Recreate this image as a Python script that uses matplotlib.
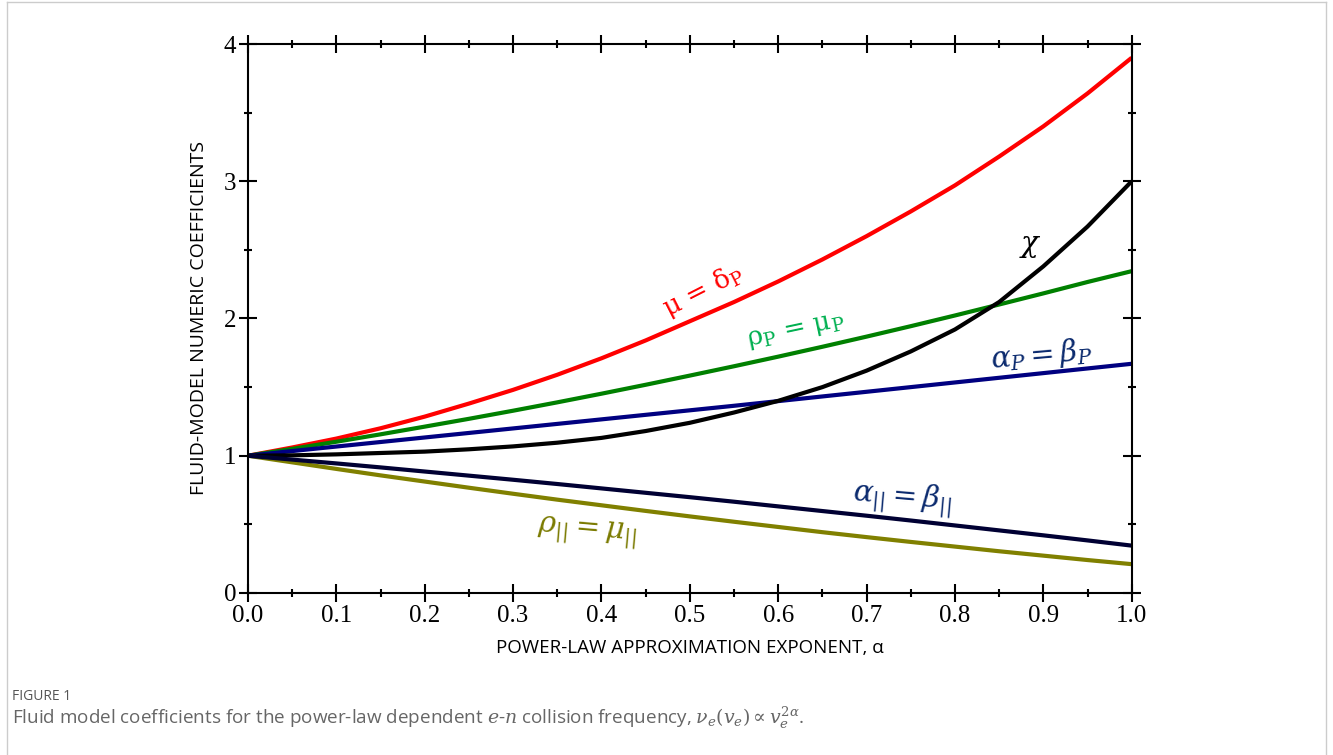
import numpy as np
import matplotlib.pyplot as plt
from matplotlib.lines import Line2D
from matplotlib.ticker import MultipleLocator

# Power-law exponent alpha (read every 0.05)
alpha = [0.00, 0.05, 0.10, 0.15, 0.20, 0.25, 0.30, 0.35, 0.40, 0.45, 0.50,
         0.55, 0.60, 0.65, 0.70, 0.75, 0.80, 0.85, 0.90, 0.95, 1.00]

# Coefficients
mu_delta_p = [1.00, 1.06, 1.125, 1.20, 1.285, 1.38, 1.48, 1.59, 1.71, 1.84, 1.98,
              2.12, 2.27, 2.43, 2.60, 2.78, 2.97, 3.18, 3.40, 3.64, 3.90]
rho_mu_p = [1.00, 1.05, 1.102, 1.156, 1.212, 1.269, 1.328, 1.389, 1.452, 1.517, 1.584,
            1.652, 1.722, 1.794, 1.868, 1.944, 2.022, 2.102, 2.183, 2.266, 2.345]
alpha_beta_p = [1.00, 1.034, 1.067, 1.10, 1.133, 1.166, 1.199, 1.232, 1.265, 1.298, 1.331,
                1.364, 1.398, 1.432, 1.466, 1.50, 1.534, 1.568, 1.602, 1.636, 1.67]
chi = [1.00, 1.003, 1.01, 1.02, 1.03, 1.047, 1.068, 1.095, 1.13, 1.18, 1.24,
       1.315, 1.40, 1.50, 1.62, 1.76, 1.92, 2.12, 2.38, 2.67, 3.00]
alpha_beta_par = [1.00, 0.972, 0.944, 0.915, 0.885, 0.855, 0.825, 0.794, 0.762, 0.730, 0.698,
                  0.665, 0.631, 0.597, 0.563, 0.528, 0.492, 0.456, 0.420, 0.383, 0.345]
rho_mu_par = [1.00, 0.952, 0.904, 0.857, 0.812, 0.767, 0.723, 0.680, 0.639, 0.598, 0.558,
              0.519, 0.481, 0.443, 0.407, 0.372, 0.338, 0.304, 0.272, 0.240, 0.21]

plt.rcParams["mathtext.fontset"] = "dejavuserif"

fig = plt.figure(figsize=(13.33, 7.55), dpi=100)
ax = fig.add_axes([0.186, 0.2146, 0.663, 0.7271])

lw = 3.0
ax.plot(alpha, mu_delta_p, color="#ff0000", lw=lw, solid_capstyle="butt")
ax.plot(alpha, rho_mu_p, color="#008000", lw=lw, solid_capstyle="butt")
ax.plot(alpha, alpha_beta_p, color="#000080", lw=lw, solid_capstyle="butt")
ax.plot(alpha, chi, color="#000000", lw=lw, solid_capstyle="butt")
ax.plot(alpha, rho_mu_par, color="#808000", lw=lw, solid_capstyle="butt")
ax.plot(alpha, alpha_beta_par, color="#000033", lw=lw, solid_capstyle="butt")

# curve labels
ax.text(0.515, 2.20, "μ = δ$_\\mathregular{P}$", color="#ff0000", fontsize=19,
        family="DejaVu Serif", rotation=27, ha="center", va="center")
ax.text(0.62, 1.91, "ρ$_\\mathregular{P}$ = μ$_\\mathregular{P}$", color="#00b050",
        fontsize=19, family="DejaVu Serif", rotation=12, ha="center", va="center")
ax.text(0.898, 1.73, r"$\alpha_P = \beta_P$", color="#0b2a6e", fontsize=21,
        rotation=5, ha="center", va="center")
ax.text(0.885, 2.53, r"$\chi$", color="#000000", fontsize=21,
        ha="center", va="center")
ax.text(0.74, 0.69, r"$\alpha_{||} = \beta_{||}$", color="#0b2a6e", fontsize=21,
        rotation=-5, ha="center", va="center")
ax.text(0.384, 0.44, r"$\rho_{||} = \mu_{||}$", color="#7a7a00", fontsize=21,
        rotation=-5, ha="center", va="center")

ax.set_xlim(0, 1)
ax.set_ylim(0, 4)
ax.xaxis.set_major_locator(MultipleLocator(0.1))
ax.xaxis.set_minor_locator(MultipleLocator(0.05))
ax.yaxis.set_major_locator(MultipleLocator(1))
ax.yaxis.set_minor_locator(MultipleLocator(0.5))
ax.xaxis.set_major_formatter(plt.FuncFormatter(lambda v, p: f"{v:.1f}"))
ax.yaxis.set_major_formatter(plt.FuncFormatter(lambda v, p: f"{v:.0f}"))

ax.tick_params(which="both", direction="inout", top=True, right=True,
               width=1.5, colors="black")
ax.tick_params(which="major", length=13, labelsize=18, pad=2)
ax.tick_params(which="minor", length=6)
for lab in ax.get_xticklabels() + ax.get_yticklabels():
    lab.set_family("Liberation Serif")
for s in ax.spines.values():
    s.set_linewidth(1.5)

ax.set_xlabel("POWER-LAW APPROXIMATION EXPONENT, α", family="Open Sans",
              fontsize=13.5, labelpad=9)
ax.set_ylabel("FLUID-MODEL NUMERIC COEFFICIENTS", family="Open Sans",
              fontsize=14, labelpad=11)

# caption
fig.text(12 / 1333, 1 - 697 / 755, "FIGURE 1", family="Open Sans", fontsize=10,
         color="#555555", va="center")
fig.text(12 / 1333, 1 - 718 / 755,
         r"Fluid model coefficients for the power-law dependent $e$-$n$ collision "
         r"frequency, $\nu_e(v_e) \propto v_e^{2\alpha}$.",
         family="Open Sans", fontsize=13.6, color="#666666", va="center")

# page frame
fig.add_artist(Line2D([7 / 1333, 7 / 1333], [0, 1 - 2 / 755], color="#cccccc", lw=1))
fig.add_artist(Line2D([7 / 1333, 1326 / 1333], [1 - 2 / 755, 1 - 2 / 755],
                      color="#cccccc", lw=1))
fig.add_artist(Line2D([1326 / 1333, 1326 / 1333], [0, 1 - 2 / 755],
                      color="#cccccc", lw=1))

fig.savefig("out.png", dpi=100)
